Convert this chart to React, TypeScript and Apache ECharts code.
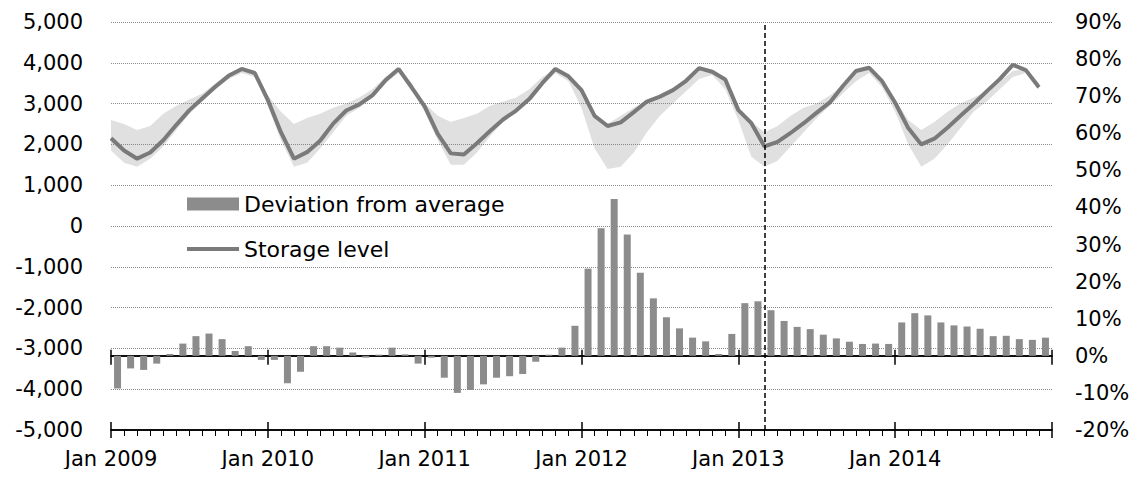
import React, { useEffect, useRef } from 'react';
import * as echarts from 'echarts';

// Tick labels for the time axis (one every 12 months, starting Jan 2009)
const yearLabels = ['Jan 2009', 'Jan 2010', 'Jan 2011', 'Jan 2012', 'Jan 2013', 'Jan 2014'];

// Storage level, start of each month, Jan 2009 – Dec 2014 (left axis)
const storageLevel = [
  2150, 1850, 1650, 1800, 2100, 2480, 2840, 3130, 3420, 3680, 3850, 3750,
  3090, 2300, 1650, 1810, 2090, 2510, 2830, 2980, 3200, 3570, 3850, 3400,
  2930, 2260, 1780, 1750, 2030, 2330, 2610, 2830, 3110, 3500, 3850, 3670,
  3330, 2700, 2450, 2540, 2790, 3050, 3170, 3330, 3560, 3870, 3780, 3590,
  2840, 2520, 1950, 2060, 2280, 2520, 2780, 3030, 3430, 3800, 3880, 3550,
  3020, 2400, 2000, 2140, 2410, 2700, 2990, 3300, 3600, 3950, 3820, 3400,
];

// Historical range (min / max) of storage level, same months
const rangeLow = [
  1850, 1550, 1450, 1650, 1950, 2350, 2750, 3050, 3350, 3600, 3750, 3650,
  2950, 2100, 1450, 1550, 1900, 2300, 2700, 2900, 3150, 3500, 3750, 3350,
  2800, 2100, 1500, 1500, 1800, 2200, 2550, 2800, 3050, 3450, 3750, 3550,
  2900, 1900, 1400, 1450, 1800, 2300, 2700, 3000, 3300, 3600, 3700, 3350,
  2600, 1700, 1450, 1600, 1950, 2300, 2650, 2950, 3250, 3550, 3750, 3400,
  2800, 2000, 1450, 1650, 2000, 2400, 2800, 3050, 3350, 3650, 3750, 3350,
];
const rangeHigh = [
  2600, 2500, 2350, 2450, 2750, 2950, 3100, 3250, 3500, 3750, 3850, 3800,
  3200, 2800, 2500, 2650, 2750, 2900, 3000, 3150, 3350, 3650, 3850, 3500,
  3000, 2700, 2550, 2650, 2750, 2950, 3050, 3150, 3350, 3650, 3850, 3700,
  3350, 2700, 2500, 2700, 2900, 3050, 3150, 3300, 3550, 3800, 3800, 3600,
  2900, 2550, 2300, 2450, 2700, 2900, 3000, 3200, 3450, 3750, 3850, 3600,
  3100, 2600, 2350, 2550, 2800, 3000, 3150, 3300, 3550, 3800, 3850, 3500,
];

// Deviation from average, % (right axis), monthly bars
const deviationPct = [
  -8.8, -3.4, -3.8, -2.1, 0.5, 3.3, 5.3, 6.0, 4.5, 1.3, 2.6, -1.1,
  -1.1, -7.4, -4.3, 2.6, 2.6, 2.2, 0.9, -0.5, 0.3, 2.2, 0.4, -2.1,
  -0.5, -5.9, -10.0, -9.2, -7.7, -5.9, -5.5, -4.9, -1.6, 0.3, 2.2, 8.1,
  23.5, 34.4, 42.3, 32.7, 22.4, 15.5, 10.4, 7.4, 4.9, 3.9, 0.5, 5.9,
  14.2, 14.7, 12.3, 9.4, 7.8, 7.2, 5.7, 4.7, 3.8, 3.2, 3.3, 3.2,
  9.0, 11.5, 10.9, 9.0, 8.2, 7.9, 7.3, 5.3, 5.4, 4.5, 4.3, 4.9,
];

// Month index (from Jan 2009) of the dashed marker line (Mar 2013)
const markerMonth = 50;

export default function App() {
  const ref = useRef<HTMLDivElement>(null);

  useEffect(() => {
    const chart = echarts.init(ref.current!, null, { renderer: 'svg' });
    const font = 'DejaVu Sans';
    const black = '#000';
    const months = storageLevel.length;

    const lineData = storageLevel.map((v, i) => [i, v]);
    const bandData = rangeLow.map((v, i) => [i, v, rangeHigh[i]]);
    const barData = deviationPct.map((v, i) => [i + 0.5, v]);

    const baseX = {
      type: 'value',
      min: 0,
      max: months,
      interval: 12,
      splitLine: { show: false },
    };

    chart.setOption({
      animation: false,
      backgroundColor: '#fff',
      textStyle: { fontFamily: font },
      grid: { left: 111, right: 91, top: 22, bottom: 47 },
      legend: {
        data: [
          { name: 'Deviation from average', icon: 'rect' },
          { name: 'Storage level', icon: 'path://M0,0L52,0L52,4L0,4Z' },
        ],
        orient: 'vertical',
        left: 182,
        top: 187,
        itemWidth: 52,
        itemHeight: 13,
        itemGap: 21,
        selectedMode: false,
        textStyle: { fontSize: 22, fontFamily: font, color: black, lineHeight: 24 },
      },
      xAxis: [
        {
          ...baseX,
          position: 'bottom',
          axisLine: { onZero: false, lineStyle: { color: black, width: 1.5 } },
          axisTick: { show: true, length: 8, lineStyle: { color: black, width: 1.5 } },
          minorTick: { show: true, splitNumber: 12, length: 6, lineStyle: { color: black, width: 1 } },
          axisLabel: {
            formatter: (v: number) => yearLabels[Math.round(v / 12)] ?? '',
            fontSize: 21,
            fontFamily: font,
            color: black,
            margin: 18,
          },
        },
        {
          ...baseX,
          position: 'bottom',
          axisLine: { onZero: false, lineStyle: { color: black, width: 1.5 } },
          axisTick: { show: true, inside: true, length: 8, lineStyle: { color: black, width: 1.5 } },
          axisLabel: { show: false },
        },
        {
          ...baseX,
          position: 'bottom',
          axisLine: { onZero: true, onZeroAxisIndex: 1, lineStyle: { color: black, width: 1.5 } },
          axisTick: { show: true, length: 9, lineStyle: { color: black, width: 1.5 } },
          axisLabel: { show: false },
        },
        {
          ...baseX,
          position: 'bottom',
          axisLine: { onZero: true, onZeroAxisIndex: 1, lineStyle: { color: black, width: 1.5 } },
          axisTick: { show: true, inside: true, length: 6, lineStyle: { color: black, width: 1.5 } },
          axisLabel: { show: false },
        },
      ],
      yAxis: [
        {
          type: 'value',
          position: 'left',
          min: -5000,
          max: 5000,
          interval: 1000,
          axisLine: { show: false, onZero: false },
          axisTick: { show: false },
          axisLabel: {
            formatter: (v: number) => v.toLocaleString('en-US'),
            fontSize: 21,
            fontFamily: font,
            color: black,
            margin: 28,
          },
          splitLine: { show: true, lineStyle: { type: 'dotted', color: '#8a8a8a', width: 1 } },
        },
        {
          type: 'value',
          position: 'right',
          min: -20,
          max: 90,
          interval: 10,
          axisLine: { show: false, onZero: false },
          axisTick: { show: false },
          axisLabel: {
            formatter: (v: number) => `${v}%`,
            fontSize: 21,
            fontFamily: font,
            color: black,
            margin: 23,
          },
          splitLine: { show: false },
        },
      ],
      series: [
        {
          name: 'range',
          type: 'custom',
          xAxisIndex: 0,
          yAxisIndex: 0,
          data: bandData,
          encode: { x: 0, y: [1, 2] },
          silent: true,
          z: 1,
          renderItem: (params: any, api: any) => {
            if (params.dataIndex !== 0) return null;
            const pts: number[][] = [];
            for (let i = 0; i < rangeLow.length; i++) pts.push(api.coord([i, rangeLow[i]]));
            for (let i = rangeHigh.length - 1; i >= 0; i--) pts.push(api.coord([i, rangeHigh[i]]));
            return {
              type: 'polygon',
              shape: { points: pts },
              style: { fill: 'rgba(130,130,130,0.25)', stroke: 'none' },
            };
          },
        },
        {
          name: 'Deviation from average',
          type: 'bar',
          xAxisIndex: 0,
          yAxisIndex: 1,
          data: barData,
          barWidth: 7,
          itemStyle: { color: '#8c8c8c' },
          z: 2,
          markLine: {
            silent: true,
            symbol: 'none',
            label: { show: false },
            lineStyle: { type: [5, 3], color: black, width: 1.5 },
            data: [{ xAxis: markerMonth }],
          },
        },
        {
          name: 'Storage level',
          type: 'line',
          xAxisIndex: 0,
          yAxisIndex: 0,
          data: lineData,
          symbol: 'none',
          lineStyle: { color: '#7a7a7a', width: 4 },
          itemStyle: { color: '#7a7a7a' },
          z: 3,
        },
      ],
    });

    return () => chart.dispose();
  }, []);

  return <div ref={ref} style={{ width: 1143, height: 477, margin: -8 }} />;
}
